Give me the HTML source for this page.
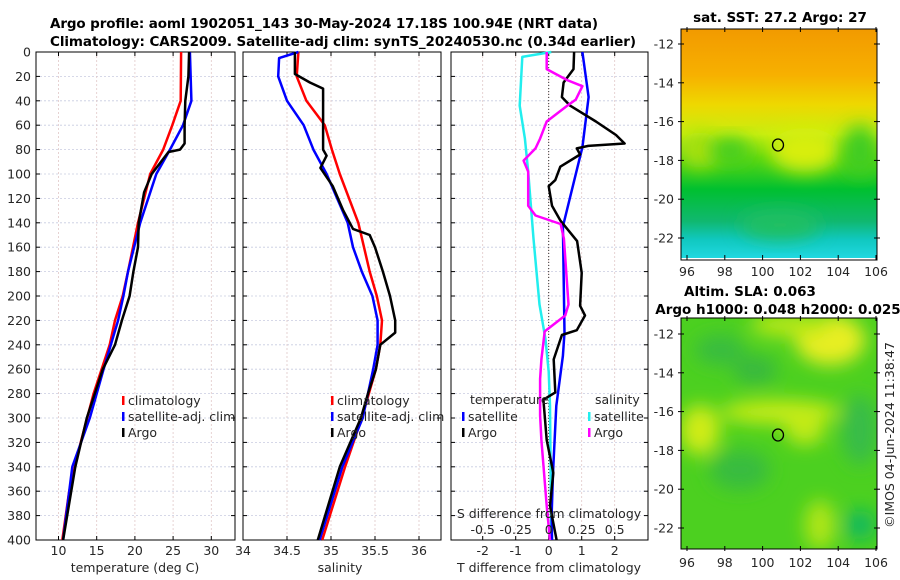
<!DOCTYPE html>
<html><head><meta charset="utf-8"><style>
body{margin:0;background:#fff;}
svg{display:block;font-family:"DejaVu Sans","Liberation Sans",sans-serif;}
.t{font-size:12.5px;fill:#262626}
.b{font-weight:bold;font-size:13.5px;fill:#000}
</style></head><body>
<svg id="fig" width="900" height="580" viewBox="0 0 900 580">
<defs>
<linearGradient id="sstg" x1="0" y1="0" x2="0" y2="1">
<stop offset="0" stop-color="#f29a00"/><stop offset="0.2" stop-color="#f7b000"/>
<stop offset="0.33" stop-color="#eed800"/><stop offset="0.46" stop-color="#c8ee10"/>
<stop offset="0.56" stop-color="#60d810"/><stop offset="0.7" stop-color="#00c030"/>
<stop offset="0.84" stop-color="#10b870"/><stop offset="0.92" stop-color="#10c8c0"/>
<stop offset="1" stop-color="#20d8e0"/></linearGradient>
<filter id="bl" x="-50%" y="-50%" width="200%" height="200%"><feGaussianBlur stdDeviation="9"/></filter>
<clipPath id="c1"><rect x="681" y="29" width="196" height="229"/></clipPath>
<clipPath id="c2"><rect x="681" y="318" width="196" height="231"/></clipPath>
</defs>
<text class="b" x="50" y="28" textLength="548">Argo profile: aoml 1902051_143 30-May-2024 17.18S 100.94E (NRT data)</text>
<text class="b" x="50" y="46" textLength="586">Climatology: CARS2009. Satellite-adj clim: synTS_20240530.nc (0.34d earlier)</text>
<g id="p1"></g>
<g id="p2"></g>
<g id="p3"></g>

<g>
<text class="b" x="780" y="22" text-anchor="middle">sat. SST: 27.2 Argo: 27</text>
<g clip-path="url(#c1)">
<rect x="681" y="29" width="196" height="229" fill="url(#sstg)"/>
<ellipse cx="805" cy="150" rx="35" ry="22" fill="#d8ee10" filter="url(#bl)"/>
<ellipse cx="700" cy="150" rx="20" ry="18" fill="#a8e010" filter="url(#bl)"/>
<ellipse cx="860" cy="150" rx="18" ry="25" fill="#40cc20" filter="url(#bl)"/>
<ellipse cx="730" cy="150" rx="20" ry="12" fill="#40cc20" filter="url(#bl)"/>
<ellipse cx="780" cy="225" rx="40" ry="14" fill="#20c060" filter="url(#bl)"/>
</g>
<rect x="681" y="29" width="196" height="231" fill="none" stroke="#000" stroke-width="1"/>
<ellipse cx="778" cy="145" rx="5.5" ry="6" fill="none" stroke="#000" stroke-width="1.3"/>
</g>
<g>
<text class="b" x="750" y="296" text-anchor="middle">Altim. SLA: 0.063</text>
<text class="b" x="778" y="314" text-anchor="middle">Argo h1000: 0.048 h2000: 0.025</text>
<g clip-path="url(#c2)">
<rect x="681" y="318" width="196" height="231" fill="#4cd020"/>
<g filter="url(#bl)">
<ellipse cx="830" cy="340" rx="35" ry="25" fill="#e8ee20"/>
<ellipse cx="790" cy="325" rx="40" ry="12" fill="#b8e818"/>
<ellipse cx="780" cy="412" rx="60" ry="12" fill="#c8ec18"/>
<ellipse cx="700" cy="430" rx="20" ry="25" fill="#d0ec18"/>
<ellipse cx="805" cy="430" rx="20" ry="15" fill="#c0ea18"/>
<ellipse cx="820" cy="525" rx="15" ry="25" fill="#b0e618"/>
<ellipse cx="755" cy="370" rx="22" ry="14" fill="#38b840"/>
<ellipse cx="860" cy="430" rx="18" ry="35" fill="#38bc48"/>
<ellipse cx="860" cy="525" rx="15" ry="15" fill="#10b860"/>
<ellipse cx="720" cy="350" rx="25" ry="15" fill="#38bc40"/>
<ellipse cx="740" cy="470" rx="30" ry="20" fill="#38bc40"/>
</g>
</g>
<rect x="681" y="318" width="196" height="231" fill="none" stroke="#000" stroke-width="1"/>
<ellipse cx="778" cy="435" rx="5.5" ry="6" fill="none" stroke="#000" stroke-width="1.3"/>
</g>
<g id="maxes"></g>
<text class="t" transform="translate(894,435) rotate(-90)" text-anchor="middle">©IMOS 04-Jun-2024 11:38:47</text>
</svg>
<script>
// ---- data ----
const depthTicks=[0,20,40,60,80,100,120,140,160,180,200,220,240,260,280,300,320,340,360,380,400];
const tempTicks=[10,15,20,25,30];
const salTicks=[34,34.5,35,35.5,36];
const tdiffTicks=[-2,-1,0,1,2];
const sdiffTicks=[-0.5,-0.25,0,0.25,0.5];
const sdiffTickLabels=["-0.5","-0.25","0","0.25","0.5"];
const lonTicks=[96,98,100,102,104,106];
const latTicks=[-12,-14,-16,-18,-20,-22];

const climTd=[0,40,60,80,100,120,140,180,200,220,240,280,320,360,400];
const climT=[26.05,26,24.9,23.7,22,21.2,20.4,19.1,18.4,17.4,16.7,14.6,12.9,11.4,10.5];
const satTd=[0,40,60,80,100,140,180,200,220,260,300,340,400];
const satT=[27.2,27.4,26.3,24.6,22.8,20.7,19.1,18.5,17.8,15.9,14.1,11.8,10.6];
const argoTd=[0,20,40,60,75,80,82,100,115,140,160,180,200,220,240,260,300,340,400];
const argoT=[27.1,27,26.6,26.5,26.5,25.9,24.4,22.2,21.2,20.5,20.4,19.8,19.3,18.3,17.4,15.8,13.7,12.2,10.6];

const climSd=[0,20,40,60,80,100,140,180,200,220,240,260,300,340,400];
const climS=[34.63,34.61,34.72,34.93,35.01,35.1,35.31,35.44,35.52,35.58,35.56,35.51,35.35,35.16,34.9];
const satSd=[0,5,20,40,60,80,100,140,160,180,200,220,240,260,300,340,400];
const satS=[34.63,34.41,34.4,34.5,34.69,34.8,34.95,35.19,35.25,35.35,35.47,35.53,35.53,35.48,35.36,35.13,34.87];
const argoSd=[0,18,25,30,80,85,95,110,130,145,150,160,180,200,220,230,240,260,280,300,340,400];
const argoS=[34.59,34.59,34.76,34.91,34.91,34.95,34.88,35.02,35.14,35.25,35.44,35.5,35.59,35.67,35.73,35.73,35.56,35.51,35.42,35.34,35.1,34.85];

const satTdiffD=[0,37,78,143,230,249,290,345,378,400];
const satTdiff=[1.02,1.21,1.02,0.43,0.48,0.43,0.23,0.13,0.09,0.1];
const argoTdiffD=[0,14,25,37,44,57,68,75,77,79,84,94,105,110,126,138,155,181,208,216,228,232,252,279,285,318,345,372,400];
const argoTdiff=[0.77,0.75,0.45,0.4,0.65,1.43,2.04,2.3,1.2,0.85,0.95,0.35,0.2,0,0.1,0.35,0.86,1.0,0.95,1.1,0.85,0.4,0.15,0.2,-0.16,-0.06,0.14,0.04,0.24];
const satSdiffD=[0,4,44,71,98,153,207,235,262,290,400];
const satSdiff=[0.02,-0.2,-0.22,-0.18,-0.155,-0.115,-0.07,-0.025,0,0.01,0.02];
const argoSdiffD=[0,14,23,28,39,44,57,71,79,89,98,126,134,141,153,207,216,229,252,268,298,318,372,400];
const argoSdiff=[-0.015,-0.015,0.14,0.255,0.205,0.14,-0.015,-0.065,-0.1,-0.19,-0.155,-0.155,-0.1,0.09,0.115,0.15,0.125,-0.03,-0.055,-0.065,-0.065,-0.055,-0.015,0.01];

// ---- helpers ----
const NS="http://www.w3.org/2000/svg";
const Y0=52,Y1=540;
const yD=d=>Y0+(d/400)*(Y1-Y0);
function mk(tag,attrs,parent){const e=document.createElementNS(NS,tag);for(const k in attrs)e.setAttribute(k,attrs[k]);parent.appendChild(e);return e;}
function scale(d0,d1,r0,r1){return v=>r0+(v-d0)/(d1-d0)*(r1-r0);}

function panel(g,x0,x1,xs,ticks,labels,showY,name){
  for(const d of depthTicks){
    const l=mk('line',{x1:x0,x2:x1,y1:yD(d),y2:yD(d),stroke:'#c8cce0','stroke-width':0.8,'stroke-dasharray':'2,2'},g);
    
    
    mk('line',{x1:x0,x2:x0+4,y1:yD(d),y2:yD(d),stroke:'#000'},g);
    mk('line',{x1:x1-4,x2:x1,y1:yD(d),y2:yD(d),stroke:'#000'},g);
    if(showY){const t=mk('text',{x:x0-5,y:yD(d)+4.5,'text-anchor':'end',class:'t'},g);t.textContent=d;
      
      }
  }
  ticks.forEach((v,i)=>{
    const x=xs(v);
    const l=mk('line',{x1:x,x2:x,y1:Y0,y2:Y1,stroke:'#e0c8c8','stroke-width':0.8,'stroke-dasharray':'2,2'},g);
    
    
    mk('line',{x1:x,x2:x,y1:Y0,y2:Y0+4,stroke:'#000'},g);
    mk('line',{x1:x,x2:x,y1:Y1-4,y2:Y1,stroke:'#000'},g);
    if(labels){const t=mk('text',{x:x,y:Y1+15,'text-anchor':'middle',class:'t'},g);t.textContent=labels[i];
      
      }
  });
  const r=mk('rect',{x:x0,y:Y0,width:x1-x0,height:Y1-Y0,fill:'none',stroke:'#000','stroke-width':1},g);
  
  
}
function line(g,xs,vals,depths,color,name,w){
  const pts=vals.map((v,i)=>xs(v).toFixed(1)+','+yD(depths[i]).toFixed(1)).join(' ');
  const p=mk('polyline',{points:pts,fill:'none',stroke:color,'stroke-width':w||2.5,'stroke-linejoin':'round'},g);
  
  
}
function txt(g,x,y,s,name,anchor){const t=mk('text',{x:x,y:y,class:'t','text-anchor':anchor||'start'},g);t.textContent=s;
  
  return t;}
function legend(g,x,y,color,label,name){
  const m=mk('rect',{x:x,y:y-9,width:2.5,height:9,fill:color},g);
  
  
  txt(g,x+6,y,label,name);
}

// panel 1
const g1=document.getElementById('p1');
const xT=scale(10,30,58.5,211.3);
panel(g1,36,235,xT,tempTicks,tempTicks.map(String),true,'temperature');
line(g1,xT,climT,climTd,'#ff0000','climatology-temperature-line');
line(g1,xT,satT,satTd,'#0000ff','satellite-temperature-line');
line(g1,xT,argoT,argoTd,'#000000','argo-temperature-line');
txt(g1,135,572,'temperature (deg C)','temperature-x-axis-title','middle');
legend(g1,122,405,'#ff0000','climatology','legend-climatology');
legend(g1,122,421,'#0000ff','satellite-adj. clim','legend-satellite-adj');
legend(g1,122,437,'#000000','Argo','legend-argo');

// panel 2
const g2=document.getElementById('p2');
const xS=scale(34,36,243,419);
panel(g2,243,441,xS,salTicks,['34','34.5','35','35.5','36'],false,'salinity');
line(g2,xS,climS,climSd,'#ff0000','climatology-salinity-line');
line(g2,xS,satS,satSd,'#0000ff','satellite-salinity-line');
line(g2,xS,argoS,argoSd,'#000000','argo-salinity-line');
txt(g2,340,572,'salinity','salinity-x-axis-title','middle');
legend(g2,331,405,'#ff0000','climatology','legend2-climatology');
legend(g2,331,421,'#0000ff','satellite-adj. clim','legend2-satellite-adj');
legend(g2,331,437,'#000000','Argo','legend2-argo');

// panel 3
const g3=document.getElementById('p3');
const xTd=scale(0,1,548.7,581.7);
const xSd=scale(0,0.5,548.7,614.7);
panel(g3,451,648,xTd,tdiffTicks,tdiffTicks.map(String),false,'difference');
const z=mk('line',{x1:xTd(0),x2:xTd(0),y1:Y0,y2:Y1,stroke:'#333','stroke-width':1,'stroke-dasharray':'1,2'},g3);


line(g3,xSd,satSdiff,satSdiffD,'#22eeee','satellite-salinity-diff-line');
line(g3,xTd,satTdiff,satTdiffD,'#0000ff','satellite-temperature-diff-line');
line(g3,xTd,argoTdiff,argoTdiffD,'#000000','argo-temperature-diff-line');
line(g3,xSd,argoSdiff,argoSdiffD,'#ff00ff','argo-salinity-diff-line');
txt(g3,549,572,'T difference from climatology','tdiff-x-axis-title','middle');
txt(g3,549,518,'S difference from climatology','sdiff-axis-title','middle');
sdiffTicks.forEach((v,i)=>txt(g3,xSd(v),534,sdiffTickLabels[i],'sdiff-tick-label','middle'));
txt(g3,470,404,'temperature','legend-temperature-header');
txt(g3,595,404,'salinity','legend-salinity-header');
legend(g3,462,421,'#0000ff','satellite','legend3-temp-satellite');
legend(g3,462,437,'#000000','Argo','legend3-temp-argo');
legend(g3,588,421,'#22eeee','satellite','legend3-sal-satellite');
legend(g3,588,437,'#ff00ff','Argo','legend3-sal-argo');

// map axes
const ga=document.getElementById('maxes');
const xLon=scale(96,106,687,876);
[[29,258,44,238],[318,549,334,528]].forEach((m,k)=>{
  const yLat=scale(-12,-22,m[2],m[3]);
  lonTicks.forEach(v=>{const x=xLon(v);
    mk('line',{x1:x,x2:x,y1:m[1]-3,y2:m[1]+2,stroke:'#000'},ga);
    mk('line',{x1:x,x2:x,y1:m[0]-2,y2:m[0]+3,stroke:'#000'},ga);
    txt(ga,x,m[1]+18,String(v),'map-lon-tick-label','middle');});
  latTicks.forEach(v=>{const y=yLat(v);
    mk('line',{x1:678,x2:684,y1:y,y2:y,stroke:'#000'},ga);
    mk('line',{x1:874,x2:880,y1:y,y2:y,stroke:'#000'},ga);
    txt(ga,674,y+4.5,String(v),'map-lat-tick-label','end');});
});
</script>
</body></html>
